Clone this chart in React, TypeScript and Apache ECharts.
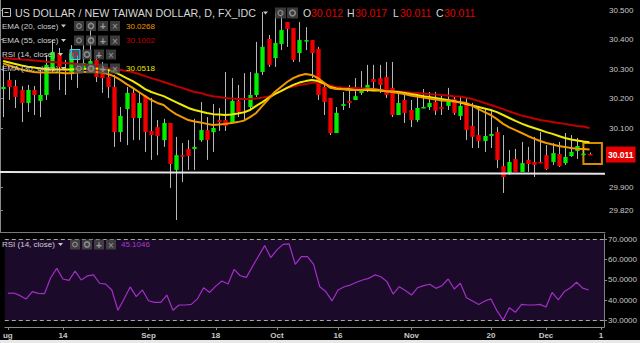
import React, { useEffect, useRef } from 'react';
import * as echarts from 'echarts';

const FONT = '"Liberation Sans", Arial, sans-serif';

// ---- Data ----
const OPEN = [
  30.232, 30.263, 30.242, 30.229, 30.185, 30.229, 30.192, 30.212, 30.303, 30.354,
  30.300, 30.290, 30.310, 30.303, 30.317, 30.331, 30.303, 30.273, 30.239, 30.086,
  30.164, 30.219, 30.134, 30.208, 30.090, 30.103, 30.059, 30.117, 29.958, 30.008,
  30.029, 30.029, 30.059, 30.093, 30.086, 30.127, 30.127, 30.117, 30.192, 30.158,
  30.171, 30.212, 30.290, 30.402, 30.337, 30.385, 30.459, 30.439, 30.354, 30.395,
  30.398, 30.368, 30.239, 30.202, 30.083, 30.175, 30.192, 30.195, 30.219, 30.232,
  30.266, 30.269, 30.273, 30.236, 30.144, 30.195, 30.161, 30.127, 30.168, 30.171,
  30.188, 30.171, 30.175, 30.198, 30.141, 30.181, 30.107, 30.076, 30.056, 30.073,
  30.086, 29.971, 29.947, 29.995, 29.951, 29.992, 29.985, 29.985, 30.008, 29.985,
  30.012, 29.981, 30.005, 30.022, 30.010, 30.012,
];
const CLOSE = [
  30.239, 30.239, 30.205, 30.185, 30.229, 30.212, 30.212, 30.314, 30.358, 30.307,
  30.293, 30.354, 30.297, 30.320, 30.327, 30.273, 30.269, 30.239, 30.086, 30.141,
  30.219, 30.134, 30.185, 30.086, 30.076, 30.073, 30.117, 29.978, 30.008, 30.002,
  30.005, 30.036, 30.093, 30.059, 30.100, 30.120, 30.107, 30.192, 30.154, 30.151,
  30.212, 30.286, 30.375, 30.314, 30.388, 30.432, 30.436, 30.331, 30.398, 30.398,
  30.354, 30.212, 30.188, 30.083, 30.151, 30.181, 30.185, 30.208, 30.232, 30.246,
  30.256, 30.246, 30.212, 30.144, 30.185, 30.151, 30.127, 30.168, 30.171, 30.185,
  30.158, 30.164, 30.195, 30.151, 30.175, 30.093, 30.070, 30.056, 30.073, 30.080,
  29.992, 29.934, 29.985, 29.951, 29.981, 29.978, 29.975, 29.981, 29.961, 30.015,
  29.971, 30.002, 30.019, 30.039, 30.013, 30.011,
];
const LOW = [
  30.137, 30.195, 30.168, 30.120, 30.154, 30.144, 30.137, 30.195, 30.290, 30.229,
  30.212, 30.263, 30.236, 30.290, 30.297, 30.256, 30.219, 30.202, 30.036, 30.053,
  30.042, 30.059, 30.059, 30.019, 29.992, 30.008, 30.036, 29.897, 29.788, 29.917,
  29.958, 29.958, 30.053, 29.992, 30.019, 30.090, 30.090, 30.117, 30.137, 30.127,
  30.161, 30.205, 30.280, 30.307, 30.307, 30.364, 30.375, 30.324, 30.324, 30.364,
  30.269, 30.195, 30.144, 30.076, 30.083, 30.161, 30.168, 30.195, 30.212, 30.222,
  30.229, 30.219, 30.202, 30.137, 30.144, 30.117, 30.103, 30.120, 30.168, 30.161,
  30.144, 30.144, 30.161, 30.144, 30.127, 30.059, 30.032, 30.032, 30.019, 30.032,
  29.964, 29.880, 29.941, 29.951, 29.951, 29.951, 29.934, 29.981, 29.958, 29.975,
  29.968, 29.975, 30.002, 29.995, 30.008, 30.011,
];
const HIGH = [
  30.314, 30.290, 30.263, 30.242, 30.246, 30.242, 30.297, 30.347, 30.398, 30.371,
  30.331, 30.381, 30.347, 30.381, 30.432, 30.344, 30.324, 30.297, 30.280, 30.171,
  30.239, 30.236, 30.219, 30.212, 30.202, 30.127, 30.131, 30.117, 30.070, 30.049,
  30.059, 30.131, 30.188, 30.137, 30.181, 30.168, 30.290, 30.269, 30.246, 30.286,
  30.290, 30.392, 30.493, 30.415, 30.490, 30.493, 30.459, 30.439, 30.459, 30.442,
  30.398, 30.375, 30.253, 30.202, 30.171, 30.222, 30.246, 30.269, 30.293, 30.314,
  30.314, 30.314, 30.324, 30.324, 30.222, 30.219, 30.195, 30.222, 30.232, 30.222,
  30.222, 30.212, 30.236, 30.205, 30.205, 30.205, 30.185, 30.171, 30.168, 30.161,
  30.103, 30.076, 30.025, 30.029, 30.053, 30.036, 30.070, 30.086, 30.042, 30.049,
  30.053, 30.083, 30.076, 30.066, 30.036, 30.017,
];
const EMA20 = [
  30.319, 30.312, 30.305, 30.298, 30.293, 30.290, 30.288, 30.288, 30.288, 30.288,
  30.286, 30.286, 30.288, 30.290, 30.290, 30.290, 30.288, 30.283, 30.275, 30.263,
  30.249, 30.236, 30.222, 30.208, 30.195, 30.185, 30.178, 30.161, 30.147, 30.137,
  30.127, 30.122, 30.119, 30.114, 30.110, 30.112, 30.114, 30.117, 30.120, 30.125,
  30.137, 30.151, 30.175, 30.198, 30.222, 30.239, 30.256, 30.269, 30.278, 30.283,
  30.280, 30.269, 30.253, 30.236, 30.232, 30.231, 30.229, 30.229, 30.229, 30.231,
  30.231, 30.229, 30.225, 30.222, 30.219, 30.215, 30.210, 30.207, 30.203, 30.200,
  30.197, 30.193, 30.192, 30.190, 30.188, 30.185, 30.176, 30.164, 30.154, 30.144,
  30.130, 30.114, 30.102, 30.093, 30.083, 30.073, 30.064, 30.056, 30.049, 30.044,
  30.039, 30.036, 30.032, 30.030, 30.029, 30.0268,
];
const EMA30 = [
  30.327, 30.322, 30.317, 30.312, 30.308, 30.305, 30.302, 30.300, 30.298, 30.298,
  30.298, 30.298, 30.300, 30.300, 30.302, 30.302, 30.300, 30.297, 30.290, 30.280,
  30.269, 30.259, 30.246, 30.232, 30.222, 30.215, 30.208, 30.198, 30.188, 30.178,
  30.168, 30.161, 30.156, 30.151, 30.147, 30.146, 30.144, 30.146, 30.149, 30.153,
  30.161, 30.175, 30.188, 30.202, 30.215, 30.225, 30.236, 30.246, 30.254, 30.259,
  30.263, 30.259, 30.251, 30.239, 30.234, 30.232, 30.231, 30.229, 30.229, 30.229,
  30.227, 30.227, 30.225, 30.224, 30.222, 30.219, 30.215, 30.212, 30.208, 30.205,
  30.202, 30.198, 30.195, 30.192, 30.186, 30.181, 30.176, 30.171, 30.166, 30.161,
  30.154, 30.144, 30.134, 30.124, 30.115, 30.107, 30.100, 30.093, 30.086, 30.080,
  30.073, 30.066, 30.061, 30.058, 30.054, 30.0518,
];
const EMA55 = [
  30.337, 30.336, 30.334, 30.332, 30.331, 30.329, 30.327, 30.325, 30.324, 30.322,
  30.320, 30.319, 30.317, 30.315, 30.314, 30.310, 30.307, 30.303, 30.300, 30.297,
  30.293, 30.290, 30.283, 30.276, 30.269, 30.263, 30.256, 30.249, 30.242, 30.236,
  30.229, 30.222, 30.219, 30.212, 30.208, 30.205, 30.202, 30.200, 30.198, 30.198,
  30.198, 30.200, 30.203, 30.207, 30.215, 30.225, 30.236, 30.241, 30.246, 30.249,
  30.253, 30.253, 30.249, 30.244, 30.239, 30.237, 30.236, 30.236, 30.234, 30.234,
  30.232, 30.230, 30.229, 30.225, 30.224, 30.222, 30.220, 30.219, 30.217, 30.215,
  30.214, 30.212, 30.210, 30.208, 30.207, 30.203, 30.198, 30.192, 30.185, 30.178,
  30.171, 30.164, 30.156, 30.149, 30.142, 30.137, 30.132, 30.127, 30.124, 30.120,
  30.117, 30.114, 30.110, 30.107, 30.105, 30.1002,
];
const RSI = [
  43.4, 43.6, 42.3, 40.7, 44.3, 43.4, 43.3, 51.1, 55.7, 50.5,
  49.8, 54.4, 50.0, 52.0, 52.5, 48.4, 48.0, 45.1, 35.1, 40.7,
  46.6, 41.8, 45.1, 39.8, 39.0, 39.0, 42.6, 35.1, 37.7, 37.7,
  38.0, 40.7, 46.2, 43.9, 47.0, 49.5, 48.0, 55.2, 52.1, 51.3,
  56.6, 61.8, 66.9, 61.0, 64.8, 67.5, 67.7, 57.7, 61.5, 61.5,
  57.7, 46.7, 44.3, 39.7, 45.1, 46.7, 47.5, 48.9, 50.0, 50.8,
  52.5, 51.6, 49.2, 43.1, 46.7, 44.8, 42.6, 46.2, 47.2, 47.9,
  45.9, 47.2, 50.5, 45.6, 48.4, 41.3, 39.7, 38.0, 39.7, 40.7,
  34.8, 30.3, 36.4, 34.1, 38.0, 37.7, 37.7, 38.0, 36.7, 43.9,
  40.2, 44.3, 46.2, 48.9, 46.0, 45.1046,
];
const SLOT_COUNT = 98;
// first label is "Aug", cut by the left edge in the reference ("ug")
const TICK_LABELS: Record<number, string> = {
  0: 'ug', 9: '14', 23: 'Sep', 34: '18', 44: 'Oct', 54: '16', 66: 'Nov', 79: '20', 88: 'Dec', 97: '1',
};
const PRICE_TICKS = [29.82, 29.9, 30.1, 30.2, 30.3, 30.4, 30.5];
const RSI_TICKS = [30, 40, 50, 60, 70];
const SUPPORT_LINE = [29.951, 29.945];
const LAST_PRICE = 30.011;
const HIGHLIGHT_BOX = { fromIndex: 94, toIndex: 97, top: 30.049, bottom: 29.978 };
const OHLC_TEXT = { O: '30.012', H: '30.017', L: '30.011', C: '30.011' };
const LEGEND_VALUES = { ema20: '30.0268', ema55: '30.1002', ema30: '30.0518', rsi: '45.1046' };

const C_UP = '#00f000';
const C_DOWN = '#f00000';
const C_EMA20 = '#f09a00';
const C_EMA30 = '#f0ea00';
const C_EMA55 = '#c00000';
const C_RSI = '#a22fc6';

function txt(x: number, y: number, text: string, fill: string, size = 8, extra: any = {}) {
  return {
    type: 'text', x, y, silent: true, z: 100,
    style: { text, fill, fontSize: size, fontFamily: FONT, verticalAlign: 'middle', ...extra },
  };
}
function tri(x: number, y: number) {
  return {
    type: 'polygon', silent: true, z: 100,
    shape: { points: [[x, y - 1.5], [x + 5, y - 1.5], [x + 2.5, y + 1.5]] },
    style: { fill: '#c8c8c8' },
  };
}
function iconSet(x0: number, yc: number, highlight = false) {
  const els: any[] = [];
  const bg = 'rgba(72,72,72,0.8)';
  for (let k = 0; k < 4; k++) {
    els.push({
      type: 'rect', silent: true, z: 100,
      shape: { x: x0 + k * 12, y: yc - 5, width: 10, height: 10 },
      style: { fill: k === 0 && highlight ? 'rgba(60,160,200,0.6)' : bg, stroke: k === 0 && highlight ? '#5bc8e8' : 'none', lineWidth: 1 },
    });
  }
  els.push({ type: 'circle', silent: true, z: 101, shape: { cx: x0 + 5, cy: yc, r: 2.3 }, style: { fill: 'none', stroke: highlight ? '#e02020' : '#8a8a8a', lineWidth: 1.2 } });
  els.push({ type: 'circle', silent: true, z: 101, shape: { cx: x0 + 17, cy: yc, r: 2.6 }, style: { fill: 'none', stroke: '#8a8a8a', lineWidth: 1.6 } });
  els.push(txt(x0 + 26, yc + 0.5, '+', '#9a9a9a', 10, { fontWeight: 'bold' }));
  els.push(txt(x0 + 38, yc + 0.5, '×', '#9a9a9a', 10));
  return els;
}

function buildOption() {
  const cats = Array.from({ length: SLOT_COUNT }, (_, i) => String(i));
  const candleData = OPEN.map((o, i) => [i, o, CLOSE[i], LOW[i], HIGH[i]]);
  const showTick = (index: number) => TICK_LABELS[index] !== undefined;

  const graphic: any[] = [];
  // title row
  graphic.push({ type: 'rect', silent: true, z: 100, shape: { x: 2.5, y: 8.5, width: 8, height: 8 }, style: { fill: 'none', stroke: '#bdbdbd', lineWidth: 1 } });
  graphic.push({ type: 'line', silent: true, z: 100, shape: { x1: 4.5, y1: 12.5, x2: 8.5, y2: 12.5 }, style: { stroke: '#bdbdbd', lineWidth: 1 } });
  graphic.push(txt(15, 13, 'US DOLLAR / NEW TAIWAN DOLLAR, D, FX_IDC', '#d6d6d6', 10.7));
  graphic.push(tri(263, 13));
  graphic.push({ type: 'rect', silent: true, z: 100, shape: { x: 275, y: 7.5, width: 11, height: 11 }, style: { fill: 'rgba(72,72,72,0.8)' } });
  graphic.push({ type: 'rect', silent: true, z: 100, shape: { x: 287, y: 7.5, width: 11, height: 11 }, style: { fill: 'rgba(72,72,72,0.8)' } });
  graphic.push({ type: 'circle', silent: true, z: 101, shape: { cx: 280.5, cy: 13, r: 2.5 }, style: { fill: 'none', stroke: '#8a8a8a', lineWidth: 1.2 } });
  graphic.push({ type: 'circle', silent: true, z: 101, shape: { cx: 292.5, cy: 13, r: 2.8 }, style: { fill: 'none', stroke: '#8a8a8a', lineWidth: 1.6 } });
  const ohlcPos: [string, number][] = [['O', 303], ['H', 347], ['L', 393], ['C', 436]];
  ohlcPos.forEach(([k, x]) => {
    graphic.push(txt(x, 13, k, '#d6d6d6', 10.5));
    graphic.push(txt(x + (k === 'L' ? 7 : 8), 13, (OHLC_TEXT as any)[k], '#e00000', 10.5));
  });
  // indicator rows
  const rows = [
    { label: 'EMA (20, close)', y: 26, value: LEGEND_VALUES.ema20, color: C_EMA20, ix: 74, tx: 61 },
    { label: 'EMA (55, close)', y: 40.5, value: LEGEND_VALUES.ema55, color: C_EMA55, ix: 74, tx: 61 },
    { label: 'RSI (14, close)', y: 54.5, value: '', color: C_RSI, ix: 70, tx: 58, hl: true },
    { label: 'EMA (30, close)', y: 68.5, value: LEGEND_VALUES.ema30, color: '#e8e800', ix: 74, tx: 61 },
  ];
  rows.forEach((r) => {
    graphic.push(txt(2, r.y, r.label, '#cfcfcf', 8));
    graphic.push(tri(r.tx, r.y));
    graphic.push(...iconSet(r.ix, r.y, !!r.hl));
    if (r.value) graphic.push(txt(126, r.y, r.value, r.color, 8));
  });
  // RSI panel legend
  graphic.push(txt(2, 244.5, 'RSI (14, close)', '#cfcfcf', 8));
  graphic.push(tri(58, 244.5));
  graphic.push(...iconSet(70, 244.5));
  graphic.push(txt(121, 244.5, LEGEND_VALUES.rsi, '#a63ccc', 8));
  // bottom strip
  graphic.push({ type: 'rect', silent: true, z: 100, shape: { x: 0, y: 340, width: 640, height: 3 }, style: { fill: '#e8e8e8' } });

  const axisLabelBase = { color: '#c8c8c8', fontSize: 8, fontFamily: FONT };

  return {
    animation: false,
    backgroundColor: '#000000',
    graphic,
    grid: [
      { left: 0, right: 35, top: 0, height: 232 },
      { left: 0, right: 35, top: 234, height: 93 },
    ],
    xAxis: [
      {
        type: 'category', gridIndex: 0, data: cats, boundaryGap: true,
        axisLine: { show: true, lineStyle: { color: '#7a7a7a', width: 1 } },
        axisTick: { show: false }, axisLabel: { show: false }, splitLine: { show: false },
      },
      {
        type: 'category', gridIndex: 1, data: cats, boundaryGap: true,
        axisLine: { show: true, lineStyle: { color: '#8a8a8a', width: 1 } },
        axisTick: { show: true, alignWithLabel: true, interval: (i: number) => showTick(i), length: 3, lineStyle: { color: '#8a8a8a' } },
        axisLabel: {
          ...axisLabelBase, fontWeight: 'bold', margin: 4,
          interval: (i: number) => showTick(i),
          formatter: (_v: string, i: number) => TICK_LABELS[i] ?? '',
        },
        splitLine: { show: false },
      },
      { type: 'value', gridIndex: 0, min: 0, max: 1, show: false },
    ],
    yAxis: [
      {
        type: 'value', gridIndex: 0, position: 'right', min: 29.7475, max: 30.5339,
        axisLine: { show: true, lineStyle: { color: '#8a8a8a' } },
        axisTick: { show: true, length: 3, customValues: PRICE_TICKS, lineStyle: { color: '#8a8a8a' } },
        axisLabel: { ...axisLabelBase, margin: 4, customValues: PRICE_TICKS, formatter: (v: number) => v.toFixed(3) },
        splitLine: { show: false },
      },
      {
        type: 'value', gridIndex: 1, position: 'right', min: 26.9, max: 72.6,
        axisLine: { show: true, lineStyle: { color: '#8a8a8a' } },
        axisTick: { show: true, length: 3, customValues: RSI_TICKS, lineStyle: { color: '#8a8a8a' } },
        axisLabel: { ...axisLabelBase, margin: 4, customValues: RSI_TICKS, formatter: (v: number) => v.toFixed(4) },
        splitLine: { show: false },
      },
    ],
    series: [
      {
        type: 'custom', name: 'candles', xAxisIndex: 0, yAxisIndex: 0, z: 2,
        data: candleData,
        encode: { x: 0, y: [1, 2, 3, 4] },
        renderItem: (_params: any, api: any) => {
          const i = api.value(0);
          const o = api.value(1), c = api.value(2), l = api.value(3), h = api.value(4);
          const pO = api.coord([i, o]);
          const pC = api.coord([i, c]);
          const pL = api.coord([i, l]);
          const pH = api.coord([i, h]);
          const w = api.size([1, 0])[0] * 0.7;
          const x = Math.round(pO[0]) + 0.5;
          const top = Math.min(pO[1], pC[1]);
          const hgt = Math.max(Math.abs(pO[1] - pC[1]), 1.5);
          return {
            type: 'group',
            children: [
              { type: 'line', shape: { x1: x, y1: pH[1], x2: x, y2: pL[1] }, style: { stroke: '#b8b8b8', lineWidth: 1 } },
              { type: 'rect', shape: { x: x - w / 2, y: top, width: w, height: hgt }, style: { fill: c >= o ? C_UP : C_DOWN } },
            ],
          };
        },
      },
      {
        type: 'line', name: 'EMA55', xAxisIndex: 0, yAxisIndex: 0, data: EMA55, symbol: 'none', z: 3,
        lineStyle: { color: C_EMA55, width: 2 },
      },
      {
        type: 'line', name: 'EMA30', xAxisIndex: 0, yAxisIndex: 0, data: EMA30, symbol: 'none', z: 3,
        lineStyle: { color: C_EMA30, width: 2 },
      },
      {
        type: 'line', name: 'EMA20', xAxisIndex: 0, yAxisIndex: 0, data: EMA20, symbol: 'none', z: 3,
        lineStyle: { color: C_EMA20, width: 2 },
        markArea: {
          silent: true,
          itemStyle: { color: 'rgba(0,0,0,0)', borderColor: '#d98c00', borderWidth: 2 },
          data: [[
            { xAxis: HIGHLIGHT_BOX.fromIndex, yAxis: HIGHLIGHT_BOX.top },
            { xAxis: HIGHLIGHT_BOX.toIndex, yAxis: HIGHLIGHT_BOX.bottom },
          ]],
        },
      },
      {
        type: 'line', name: 'support', xAxisIndex: 2, yAxisIndex: 0, z: 3,
        data: [[0, SUPPORT_LINE[0]], [1, SUPPORT_LINE[1]]], symbol: 'none',
        lineStyle: { color: '#e6e6e6', width: 2 },
      },
      {
        type: 'line', name: 'last', xAxisIndex: 0, yAxisIndex: 0, z: 5,
        data: [], symbol: 'none',
        markLine: {
          silent: true, symbol: 'none',
          lineStyle: { color: 'rgba(0,0,0,0)', width: 1 },
          label: {
            show: true, position: 'end', distance: 1,
            formatter: LAST_PRICE.toFixed(3),
            color: '#ffffff', backgroundColor: '#e60000', fontWeight: 'bold',
            fontSize: 8.5, fontFamily: FONT, padding: [4, 2, 3, 2],
          },
          data: [{ yAxis: LAST_PRICE }],
        },
      },
      {
        type: 'line', name: 'RSI', xAxisIndex: 1, yAxisIndex: 1, data: RSI, symbol: 'none', z: 3,
        lineStyle: { color: C_RSI, width: 1.2 },
        markArea: {
          silent: true,
          itemStyle: { color: '#1c0a2b' },
          data: [[{ yAxis: 30 }, { yAxis: 70 }]],
        },
        markLine: {
          silent: true, symbol: 'none',
          label: { show: false },
          lineStyle: { color: '#a8a8a8', type: [4, 3], width: 1 },
          data: [{ yAxis: 70 }, { yAxis: 30 }],
        },
      },
    ],
  };
}

export default function App() {
  const ref = useRef<HTMLDivElement>(null);
  useEffect(() => {
    if (!ref.current) return;
    const chart = echarts.init(ref.current, null, { renderer: 'svg' });
    chart.setOption(buildOption() as any);
    return () => chart.dispose();
  }, []);
  return (
    <div
      ref={ref}
      style={{ position: 'fixed', left: 0, top: 0, width: 640, height: 343, background: '#000' }}
    />
  );
}
